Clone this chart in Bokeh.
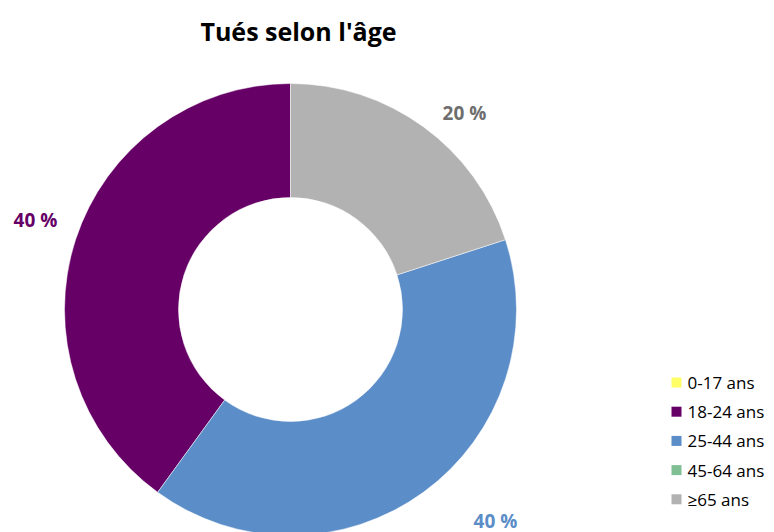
import math
from bokeh.plotting import figure
from bokeh.models import Range1d, ColumnDataSource
from bokeh.core.properties import value
from bokeh.embed import file_html
from bokeh.resources import INLINE

# Data
categories = ["0-17 ans", "18-24 ans", "25-44 ans", "45-64 ans", "≥65 ans"]
shares = [0, 40, 40, 0, 20]
colors = ["#FFFF66", "#660066", "#5B8DC8", "#7FBF93", "#B2B2B2"]
label_colors = ["#FFFF66", "#660066", "#5B8DC8", "#7FBF93", "#6E6E6E"]
title_text = "Tués selon l'âge"

W, H = 774, 532
FONT = "Open Sans"

p = figure(width=W, height=H, output_backend="svg", toolbar_location=None,
           x_range=Range1d(0, W), y_range=Range1d(0, H), min_border=0)
p.axis.visible = False
p.grid.visible = False
p.outline_line_color = None
p.background_fill_color = "white"

cx, cy = 290, H - 309
r_out, r_in = 226, 112

# wedges counterclockwise from 12 o'clock
total = sum(shares)
starts, ends, cols = [], [], []
a = math.pi / 2
for c, s, col in zip(categories, shares, colors):
    if s <= 0:
        continue
    da = 2 * math.pi * s / total
    starts.append(a)
    ends.append(a + da)
    cols.append(col)
    a += da
src = ColumnDataSource(dict(x=[cx] * len(starts), y=[cy] * len(starts),
                            start=starts, end=ends, color=cols))
p.annular_wedge(x="x", y="y", inner_radius=r_in, outer_radius=r_out,
                start_angle="start", end_angle="end", direction="anticlock",
                fill_color="color", line_color="white", line_width=0.5, source=src)

# data labels (positions per category, layout only)
label_pos = {"18-24 ans": (35, H - 219), "25-44 ans": (495, H - 520), "≥65 ans": (464, H - 112)}
lx, ly, lt, lc = [], [], [], []
for c, s, col in zip(categories, shares, label_colors):
    if s <= 0:
        continue
    x, y = label_pos[c]
    lx.append(x); ly.append(y); lt.append(f"{s} %"); lc.append(col)
p.text(x=lx, y=ly, text=lt, text_color=lc, text_font=value(FONT),
       text_font_style="bold", text_font_size="19px",
       text_align="center", text_baseline="middle")

# title
p.text(x=[298], y=[H - 30], text=[title_text], text_font=value(FONT),
       text_font_style="bold", text_font_size="25px", text_color="#000000",
       text_align="center", text_baseline="middle")

# legend
leg_y = [H - (382 + 29.2 * i) for i in range(len(categories))]
p.rect(x=[676] * len(categories), y=leg_y, width=10, height=10,
       fill_color=colors, line_color=None)
p.text(x=[687] * len(categories), y=leg_y, text=categories, text_font=value(FONT),
       text_font_size="17px", text_color="#000000",
       text_align="left", text_baseline="middle")

open("out.html", "w").write(file_html(p, INLINE))
